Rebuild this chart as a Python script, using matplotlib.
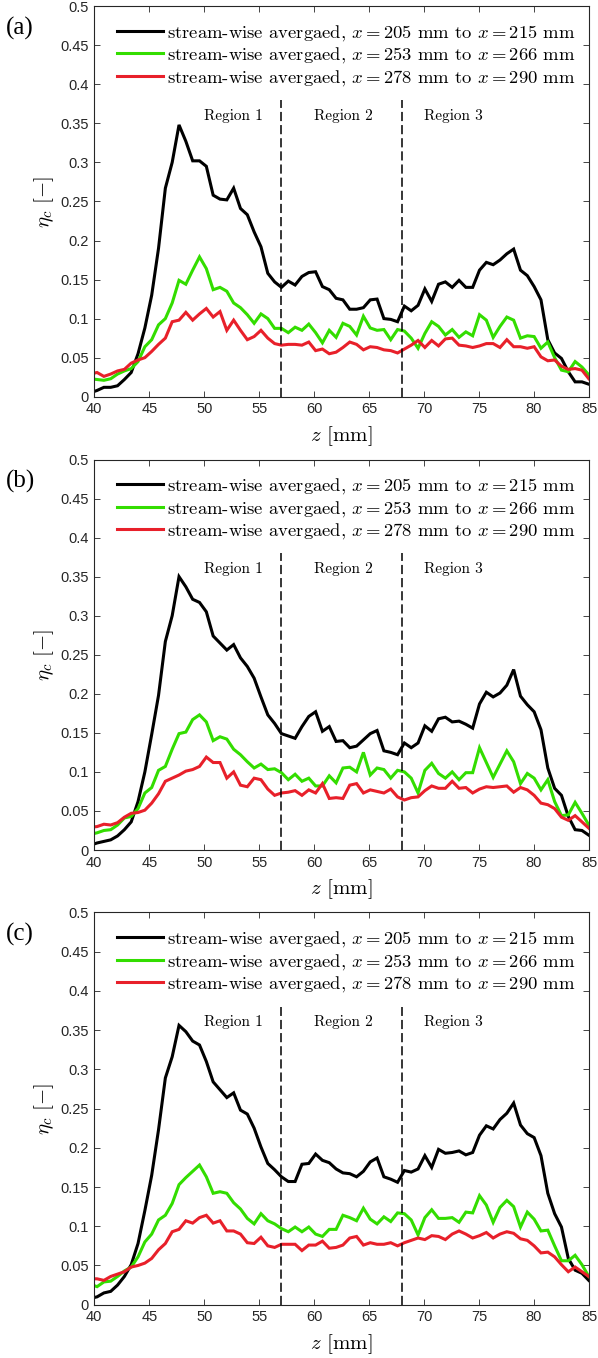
import numpy as np
import matplotlib
matplotlib.use("Agg")
import matplotlib.pyplot as plt
from matplotlib.font_manager import FontProperties

plt.rcParams['mathtext.fontset'] = 'cm'
plt.rcParams['font.family'] = ['Liberation Sans', 'DejaVu Sans']

# common stream-normal sampling grid (mm); first point lies just left of the axis limit
z = np.linspace(39.63, 84.98, 74)

a_black = [0.005, 0.008, 0.012, 0.012, 0.014, 0.022, 0.031, 0.055, 0.088, 0.130,
           0.190, 0.267, 0.300, 0.348, 0.327, 0.302, 0.302, 0.295, 0.258, 0.253,
           0.252, 0.267, 0.241, 0.233, 0.211, 0.192, 0.158, 0.147, 0.140, 0.148,
           0.143, 0.154, 0.159, 0.160, 0.141, 0.137, 0.126, 0.124, 0.112, 0.112,
           0.114, 0.124, 0.125, 0.100, 0.099, 0.096, 0.116, 0.110, 0.117, 0.138,
           0.122, 0.144, 0.147, 0.140, 0.149, 0.140, 0.140, 0.162, 0.172, 0.169,
           0.175, 0.183, 0.189, 0.162, 0.155, 0.141, 0.124, 0.073, 0.056, 0.049,
           0.032, 0.019, 0.019, 0.016]
a_green = [0.023, 0.022, 0.021, 0.023, 0.029, 0.033, 0.036, 0.045, 0.064, 0.073,
           0.092, 0.100, 0.120, 0.149, 0.144, 0.162, 0.179, 0.164, 0.137, 0.140,
           0.135, 0.120, 0.114, 0.105, 0.094, 0.106, 0.100, 0.0875, 0.0875, 0.082,
           0.089, 0.085, 0.093, 0.082, 0.069, 0.085, 0.076, 0.094, 0.090, 0.079,
           0.103, 0.088, 0.085, 0.086, 0.073, 0.086, 0.084, 0.075, 0.062, 0.081,
           0.096, 0.090, 0.079, 0.086, 0.076, 0.083, 0.078, 0.105, 0.098, 0.076,
           0.090, 0.102, 0.098, 0.075, 0.078, 0.077, 0.062, 0.070, 0.050, 0.034,
           0.032, 0.045, 0.038, 0.028]
a_red = [0.029, 0.031, 0.026, 0.029, 0.033, 0.035, 0.043, 0.047, 0.050, 0.058,
         0.067, 0.075, 0.096, 0.098, 0.108, 0.098, 0.106, 0.113, 0.102, 0.109,
         0.085, 0.098, 0.085, 0.073, 0.077, 0.085, 0.075, 0.068, 0.066, 0.067,
         0.067, 0.066, 0.070, 0.059, 0.061, 0.055, 0.057, 0.063, 0.070, 0.067,
         0.060, 0.064, 0.063, 0.060, 0.059, 0.056, 0.061, 0.066, 0.072, 0.063,
         0.072, 0.065, 0.074, 0.075, 0.066, 0.065, 0.063, 0.065, 0.068, 0.068,
         0.063, 0.073, 0.064, 0.064, 0.062, 0.064, 0.051, 0.046, 0.047, 0.039,
         0.035, 0.036, 0.034, 0.023]

b_black = [0.006, 0.009, 0.011, 0.013, 0.018, 0.026, 0.036, 0.062, 0.100, 0.148,
           0.198, 0.267, 0.300, 0.350, 0.337, 0.321, 0.317, 0.305, 0.274, 0.265,
           0.256, 0.263, 0.246, 0.235, 0.220, 0.196, 0.173, 0.162, 0.149, 0.146,
           0.143, 0.158, 0.171, 0.177, 0.152, 0.158, 0.139, 0.140, 0.131, 0.133,
           0.141, 0.149, 0.153, 0.127, 0.125, 0.122, 0.137, 0.131, 0.137, 0.159,
           0.152, 0.168, 0.170, 0.164, 0.165, 0.161, 0.156, 0.187, 0.202, 0.196,
           0.201, 0.211, 0.231, 0.197, 0.186, 0.177, 0.154, 0.105, 0.079, 0.070,
           0.043, 0.026, 0.025, 0.019]
b_green = [0.020, 0.022, 0.025, 0.026, 0.032, 0.041, 0.043, 0.053, 0.073, 0.080,
           0.102, 0.107, 0.129, 0.149, 0.151, 0.167, 0.173, 0.164, 0.140, 0.145,
           0.142, 0.129, 0.122, 0.113, 0.105, 0.110, 0.103, 0.104, 0.099, 0.090,
           0.097, 0.088, 0.092, 0.082, 0.082, 0.095, 0.086, 0.105, 0.106, 0.100,
           0.125, 0.096, 0.105, 0.103, 0.092, 0.102, 0.100, 0.092, 0.073, 0.102,
           0.111, 0.098, 0.092, 0.100, 0.090, 0.099, 0.099, 0.131, 0.112, 0.093,
           0.110, 0.127, 0.113, 0.085, 0.098, 0.092, 0.077, 0.090, 0.062, 0.044,
           0.045, 0.061, 0.047, 0.032]
b_red = [0.029, 0.030, 0.033, 0.032, 0.035, 0.042, 0.047, 0.048, 0.051, 0.060,
         0.072, 0.088, 0.092, 0.096, 0.101, 0.103, 0.107, 0.119, 0.112, 0.112,
         0.092, 0.100, 0.083, 0.081, 0.092, 0.090, 0.078, 0.070, 0.073, 0.074,
         0.076, 0.070, 0.077, 0.073, 0.085, 0.066, 0.067, 0.066, 0.083, 0.085,
         0.073, 0.077, 0.075, 0.073, 0.078, 0.068, 0.064, 0.067, 0.068, 0.076,
         0.082, 0.079, 0.079, 0.088, 0.079, 0.080, 0.073, 0.078, 0.081, 0.080,
         0.081, 0.082, 0.074, 0.080, 0.077, 0.070, 0.060, 0.058, 0.053, 0.042,
         0.038, 0.044, 0.036, 0.028]

c_black = [0.008, 0.010, 0.015, 0.017, 0.025, 0.036, 0.051, 0.078, 0.120, 0.165,
           0.223, 0.289, 0.316, 0.356, 0.348, 0.336, 0.331, 0.310, 0.284, 0.274,
           0.264, 0.270, 0.248, 0.243, 0.225, 0.201, 0.180, 0.172, 0.163, 0.157,
           0.157, 0.179, 0.180, 0.192, 0.184, 0.181, 0.173, 0.168, 0.167, 0.163,
           0.170, 0.182, 0.187, 0.163, 0.160, 0.156, 0.171, 0.169, 0.173, 0.190,
           0.175, 0.198, 0.193, 0.194, 0.196, 0.191, 0.194, 0.216, 0.228, 0.224,
           0.236, 0.244, 0.257, 0.229, 0.218, 0.213, 0.190, 0.142, 0.116, 0.099,
           0.059, 0.044, 0.040, 0.031]
c_green = [0.026, 0.023, 0.029, 0.030, 0.036, 0.043, 0.048, 0.061, 0.080, 0.090,
           0.108, 0.114, 0.129, 0.153, 0.162, 0.170, 0.178, 0.163, 0.142, 0.144,
           0.142, 0.130, 0.122, 0.110, 0.103, 0.116, 0.107, 0.103, 0.097, 0.093,
           0.099, 0.093, 0.099, 0.090, 0.087, 0.096, 0.096, 0.114, 0.111, 0.107,
           0.123, 0.109, 0.103, 0.112, 0.106, 0.117, 0.116, 0.108, 0.089, 0.111,
           0.121, 0.110, 0.110, 0.111, 0.105, 0.118, 0.117, 0.139, 0.127, 0.105,
           0.124, 0.133, 0.125, 0.099, 0.118, 0.109, 0.094, 0.095, 0.075, 0.056,
           0.056, 0.063, 0.051, 0.036]
c_red = [0.033, 0.033, 0.031, 0.036, 0.039, 0.042, 0.048, 0.050, 0.053, 0.059,
         0.070, 0.078, 0.093, 0.096, 0.107, 0.104, 0.111, 0.114, 0.104, 0.107,
         0.094, 0.094, 0.090, 0.079, 0.078, 0.086, 0.075, 0.073, 0.077, 0.077,
         0.077, 0.069, 0.076, 0.076, 0.081, 0.072, 0.073, 0.076, 0.085, 0.087,
         0.076, 0.079, 0.077, 0.077, 0.079, 0.075, 0.079, 0.082, 0.085, 0.083,
         0.088, 0.087, 0.083, 0.090, 0.094, 0.090, 0.085, 0.088, 0.092, 0.085,
         0.090, 0.093, 0.091, 0.084, 0.082, 0.075, 0.066, 0.067, 0.061, 0.051,
         0.042, 0.048, 0.042, 0.036]

panel_tags = ['(a)', '(b)', '(c)']
series_labels = [r'stream-wise avergaed, $x = 205$ mm to $x = 215$ mm',
                 r'stream-wise avergaed, $x = 253$ mm to $x = 266$ mm',
                 r'stream-wise avergaed, $x = 278$ mm to $x = 290$ mm']
series_colors = ['#000000', '#33DD00', '#E8202A']
region_bounds = [57, 68]
region_names = ['Region 1', 'Region 2', 'Region 3']
region_label_x = [50, 60, 70]
xticks = [40, 45, 50, 55, 60, 65, 70, 75, 80, 85]
yticks = [0, 0.05, 0.1, 0.15, 0.2, 0.25, 0.3, 0.35, 0.4, 0.45, 0.5]

panels = [(a_black, a_green, a_red), (b_black, b_green, b_red), (c_black, c_green, c_red)]

W, H = 598, 1358
fig = plt.figure(figsize=(W / 100, H / 100), dpi=100)
# axes boxes in pixels: (left, top, right, bottom)
boxes = [(94.3, 6.2, 589, 396.7), (94.3, 459.5, 589, 850.0), (94.3, 912.4, 589, 1304.7)]
cm_text = FontProperties(family='cmr10', size=13.4)
axis_col = '#262626'

for (series, tag, box) in zip(panels, panel_tags, boxes):
    l, t, r, b = box
    ax = fig.add_axes([l / W, 1 - b / H, (r - l) / W, (b - t) / H])
    for vals, col, lab in zip(series, series_colors, series_labels):
        ax.plot(z, vals, color=col, lw=2.2, label=lab, solid_joinstyle='miter')
    for xb in region_bounds:
        ax.plot([xb, xb], [0, 0.38], color='black', lw=1.1, dashes=(6, 2.6))
    for xn, nm in zip(region_label_x, region_names):
        ax.text(xn, 0.36, nm, fontproperties=FontProperties(family='cmr10', size=11),
                ha='left', va='center')
    ax.set_xlim(40, 85)
    ax.set_ylim(0, 0.5)
    ax.set_xticks(xticks)
    ax.set_yticks(yticks)
    ax.set_yticklabels(['%g' % v for v in yticks])
    ax.tick_params(direction='in', top=True, right=True, length=4, width=0.6,
                   labelsize=10.5, colors=axis_col, pad=4)
    for sp in ax.spines.values():
        sp.set_color(axis_col)
        sp.set_linewidth(0.8)
    leg = ax.legend(loc='upper left', bbox_to_anchor=(0.0465, 0.958), frameon=False,
                    prop=cm_text, borderpad=0, borderaxespad=0, handlelength=2.45,
                    handletextpad=0.24, labelspacing=0.15)
    ax.text(0.5, -39 / (b - t), r'$z$ [mm]', transform=ax.transAxes, ha='center',
            va='center', fontproperties=FontProperties(family='cmr10', size=15))
    ax.text(-50 / (r - l), 0.5, r'$\eta_c$ [$-$]', transform=ax.transAxes, ha='center',
            va='center', rotation=90, fontproperties=FontProperties(family='cmr10', size=15))
    fig.text(6 / W, 1 - (t + 22) / H, tag, ha='left', va='center',
             fontproperties=FontProperties(family='Liberation Serif', size=18))

fig.savefig('out.png', dpi=100)
